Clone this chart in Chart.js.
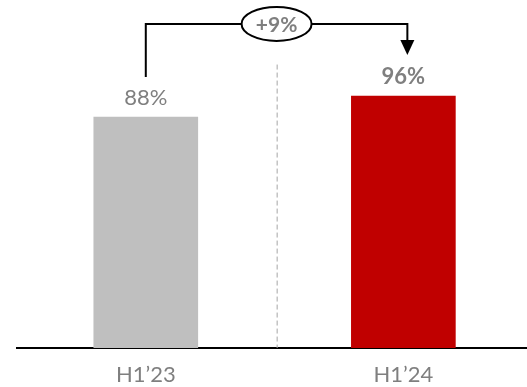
<!DOCTYPE html>
<html>
<head>
<meta charset="utf-8">
<script src="https://cdn.jsdelivr.net/npm/chart.js@4.4.0/dist/chart.umd.min.js"></script>
<style>
	html, body { margin: 0; padding: 0; background: #fff; }
	#wrap { width: 527px; height: 387px; }
</style>
</head>
<body>
<div id="wrap"><canvas id="myChart"></canvas></div>
<script>
// chart data
const periods = ['H1\u201923', 'H1\u201924'];
const shareValues = [88, 96];
const valueLabels = ['88%', '96%'];
const changeLabel = '+9%';
const barColors = ['#bfbfbf', '#c00000'];

const textGray = '#7f7f7f';
const fontFamily = 'Lato, "DejaVu Sans", sans-serif';

// value labels, the +9% bracket and the dashed divider
const annotations = {
	id: 'annotations',
	afterDatasetsDraw(chart) {
		const ctx = chart.ctx;
		const bars = chart.getDatasetMeta(0).data;
		const xScale = chart.scales.x;
		const yScale = chart.scales.y;

		ctx.save();

		// dashed divider between the two periods
		const midX = xScale.getPixelForValue(0.51);
		ctx.strokeStyle = '#a6a6a6';
		ctx.lineWidth = 1;
		ctx.setLineDash([5, 3]);
		ctx.beginPath();
		ctx.moveTo(midX, yScale.getPixelForValue(108));
		ctx.lineTo(midX, yScale.getPixelForValue(0));
		ctx.stroke();
		ctx.setLineDash([]);

		// value labels over the bars
		ctx.textAlign = 'center';
		ctx.textBaseline = 'middle';
		ctx.fillStyle = textGray;
		bars.forEach((bar, i) => {
			ctx.font = (i === 1 ? 'bold ' : '') + '22px ' + fontFamily;
			ctx.fillText(valueLabels[i], bar.x, bar.y - 19);
		});

		// bracket from first bar to second bar
		const x0 = bars[0].x;
		const x1 = bars[1].x + 4;
		const topY = yScale.getPixelForValue(123.5);
		const startY = bars[0].y - 40;
		const tipY = bars[1].y - 41;
		ctx.strokeStyle = '#000';
		ctx.lineWidth = 2;
		ctx.beginPath();
		ctx.moveTo(x0, startY);
		ctx.lineTo(x0, topY);
		ctx.lineTo(x1, topY);
		ctx.lineTo(x1, tipY - 14);
		ctx.stroke();
		ctx.fillStyle = '#000';
		ctx.beginPath();
		ctx.moveTo(x1 - 7, tipY - 15);
		ctx.lineTo(x1 + 7, tipY - 15);
		ctx.lineTo(x1, tipY);
		ctx.closePath();
		ctx.fill();

		// oval with the change
		const cx = (x0 + x1) / 2;
		ctx.fillStyle = '#fff';
		ctx.beginPath();
		ctx.ellipse(cx, topY, 35, 17, 0, 0, Math.PI * 2);
		ctx.fill();
		ctx.stroke();
		ctx.fillStyle = textGray;
		ctx.font = 'bold 21px ' + fontFamily;
		ctx.fillText(changeLabel, cx, topY + 1);

		ctx.restore();
	}
};

const chartCtx = document.getElementById('myChart').getContext('2d');
const shareChart = new Chart(chartCtx, {
	type: 'bar',
	data: {
		datasets: [{
			data: shareValues.map((v, i) => ({ x: i, y: v })),
			backgroundColor: barColors,
			barThickness: 104,
			borderWidth: 0
		}]
	},
	options: {
		responsive: true,
		maintainAspectRatio: false,
		animation: false,
		layout: { padding: { left: 17, right: 0, top: 0, bottom: 0 } },
		plugins: {
			legend: { display: false },
			tooltip: { enabled: false }
		},
		scales: {
			x: {
				type: 'linear',
				offset: false,
				bounds: 'data',
				min: -0.5,
				max: 1.48,
				grid: { display: false, offset: false },
				border: { display: true, color: '#000', width: 2 },
				afterBuildTicks: (scale) => {
					scale.ticks = periods.map((p, i) => ({ value: i }));
				},
				afterFit: (scale) => {
					scale.height = 39;
				},
				ticks: {
					color: textGray,
					padding: 6,
					font: { family: fontFamily, size: 22 },
					callback: (value) => periods[value]
				}
			},
			y: {
				display: false,
				min: 0,
				max: 132.6
			}
		}
	},
	plugins: [annotations]
});
</script>
</body>
</html>
